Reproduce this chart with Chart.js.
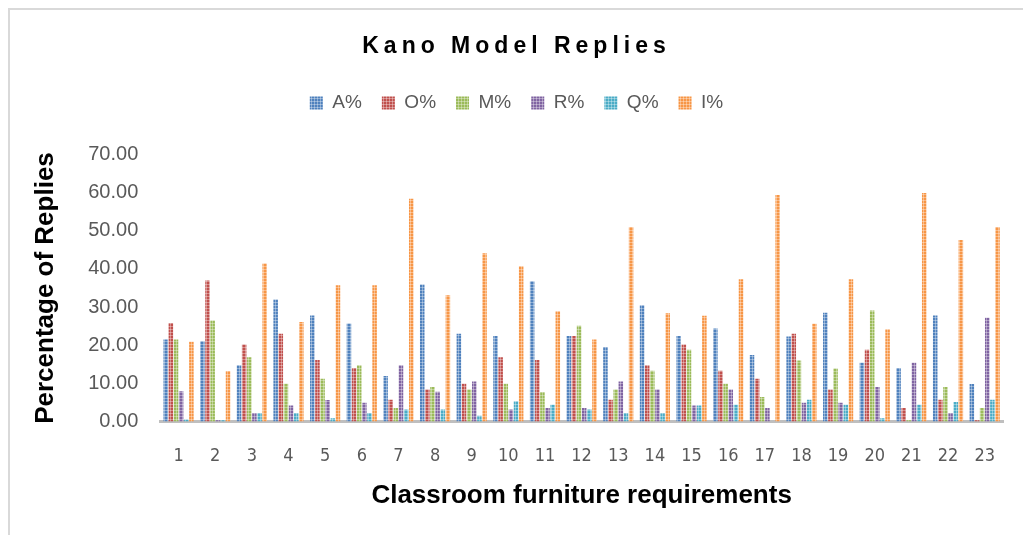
<!DOCTYPE html>
<html>
<head>
<meta charset="utf-8">
<script src="https://cdn.jsdelivr.net/npm/chart.js@4.4.1/dist/chart.umd.min.js"></script>
<style>
  html, body { margin: 0; padding: 0; background: #fff; }
  #wrap { position: absolute; left: 8px; top: 8px; width: 1015px; height: 527px;
          border-left: 2px solid #d9d9d9; border-top: 2px solid #d9d9d9; box-sizing: border-box; }
  #box { position: absolute; left: 0; top: 0; width: 1023px; height: 535px; }
</style>
</head>
<body>
<div id="wrap"></div>
<div id="box"><canvas id="chartKano"></canvas></div>
<script>
// Kano model replies per classroom furniture requirement (%)
const categories = ['1','2','3','4','5','6','7','8','9','10','11','12','13','14','15','16','17','18','19','20','21','22','23'];
const seriesNames = ['A%', 'O%', 'M%', 'R%', 'Q%', 'I%'];
const aPct = [21.5, 21.0, 14.7, 32.0, 27.8, 25.7, 11.9, 35.9, 23.0, 22.4, 36.8, 22.4, 19.5, 30.5, 22.4, 24.4, 17.4, 22.3, 28.5, 15.4, 14.0, 27.8, 9.8];
const oPct = [25.8, 37.0, 20.2, 23.0, 16.1, 14.0, 5.7, 8.4, 9.9, 16.8, 16.1, 22.4, 5.7, 14.7, 20.2, 13.3, 11.2, 23.0, 8.4, 18.8, 3.5, 5.7, 0.3];
const mPct = [21.5, 26.5, 16.8, 9.9, 11.2, 14.7, 3.5, 9.0, 8.4, 9.9, 7.7, 25.1, 8.4, 13.3, 18.8, 9.9, 6.4, 16.0, 13.9, 29.1, 0.3, 9.0, 3.5];
const rPct = [7.9, 0.3, 2.2, 4.2, 5.6, 4.9, 14.7, 7.8, 10.5, 3.1, 3.5, 3.5, 10.5, 8.4, 4.2, 8.4, 3.5, 4.9, 4.9, 9.0, 15.4, 2.2, 27.2];
const qPct = [0.5, 0.3, 2.2, 2.2, 0.8, 2.2, 3.1, 3.1, 1.5, 5.3, 4.4, 3.1, 2.2, 2.2, 4.2, 4.4, 0.0, 5.7, 4.4, 0.8, 4.4, 5.1, 5.7];
const iPct = [20.9, 13.2, 41.4, 26.1, 35.7, 35.7, 58.4, 33.1, 44.1, 40.7, 28.9, 21.5, 51.0, 28.4, 27.7, 37.3, 59.4, 25.6, 37.3, 24.2, 59.9, 47.6, 51.0];
const yTicks = [0, 10, 20, 30, 40, 50, 60, 70];

const colors = ['#4F81BD', '#C0504D', '#9BBB59', '#8064A2', '#4BACC6', '#F79646'];
const allValues = [aPct, oPct, mPct, rPct, qPct, iPct];

// small checked texture like the office "dotted" fill
function makePattern(color) {
  const c = document.createElement('canvas');
  c.width = 3; c.height = 3;
  const g = c.getContext('2d');
  g.fillStyle = color;
  g.fillRect(0, 0, 3, 3);
  g.fillStyle = 'rgba(255,255,255,0.35)';
  g.fillRect(0, 2, 3, 1);
  g.fillRect(2, 0, 1, 3);
  return g.createPattern(c, 'repeat');
}

// letter-spaced title + extra room under the legend
const layoutTweaks = {
  id: 'layoutTweaks',
  beforeInit(chart) {
    const lg = chart.legend;
    if (lg) {
      const fit = lg.fit.bind(lg);
      lg.fit = function () { fit(); this.height += 32; };
    }
  },
  afterInit(chart) {
    const tb = chart.titleBlock;
    if (!tb) return;
    const orig = tb.draw.bind(tb);
    tb.draw = function () {
      chart.ctx.save();
      chart.ctx.letterSpacing = '5px';
      orig();
      chart.ctx.restore();
    };
  }
};

const ctxKano = document.getElementById('chartKano').getContext('2d');
const chartKano = new Chart(ctxKano, {
  type: 'bar',
  data: {
    labels: categories,
    datasets: seriesNames.map((name, i) => ({
      label: name,
      data: allValues[i],
      backgroundColor: makePattern(colors[i]),
      borderColor: colors[i],
      borderWidth: 0,
      categoryPercentage: 0.84,
      barPercentage: 0.88
    }))
  },
  options: {
    responsive: true,
    maintainAspectRatio: false,
    animation: false,
    layout: { padding: { left: 30, right: 20, top: 33, bottom: 26 } },
    scales: {
      x: {
        grid: { display: false },
        border: { display: true, color: '#BFBFBF', width: 3 },
        ticks: {
          color: '#595959',
          padding: 16,
          maxRotation: 0,
          font: { family: "'Liberation Sans Narrow', 'Arial Narrow', 'DejaVu Sans Condensed', sans-serif", size: 18 }
        },
        title: {
          display: true,
          text: 'Classroom furniture requirements',
          color: '#000',
          padding: { top: 0, bottom: 0 },
          font: { family: "'Liberation Sans', Arial, sans-serif", size: 26, weight: 'bold', lineHeight: 1 }
        }
      },
      y: {
        min: 0,
        max: 70,
        afterBuildTicks: axis => { axis.ticks = yTicks.map(v => ({ value: v })); },
        grid: { display: false, drawTicks: false },
        border: { display: false },
        ticks: {
          color: '#595959',
          padding: 22,
          callback: v => Number(v).toFixed(2),
          font: { family: "'Liberation Sans', Arial, sans-serif", size: 20 }
        },
        title: {
          display: true,
          text: 'Percentage of Replies',
          color: '#000',
          padding: { top: 0, bottom: 5 },
          font: { family: "'Liberation Sans', Arial, sans-serif", size: 26, weight: 'bold' }
        }
      }
    },
    plugins: {
      title: {
        display: true,
        text: 'Kano Model Replies',
        color: '#000',
        padding: { top: 0, bottom: 13 },
        font: { family: "'Liberation Sans', Arial, sans-serif", size: 23, weight: 'bold' }
      },
      legend: {
        position: 'top',
        labels: {
          color: '#595959',
          boxWidth: 13,
          boxHeight: 13,
          padding: 20,
          font: { family: "'Liberation Sans', Arial, sans-serif", size: 19 }
        }
      },
      tooltip: { enabled: false }
    }
  },
  plugins: [layoutTweaks]
});
</script>
</body>
</html>
